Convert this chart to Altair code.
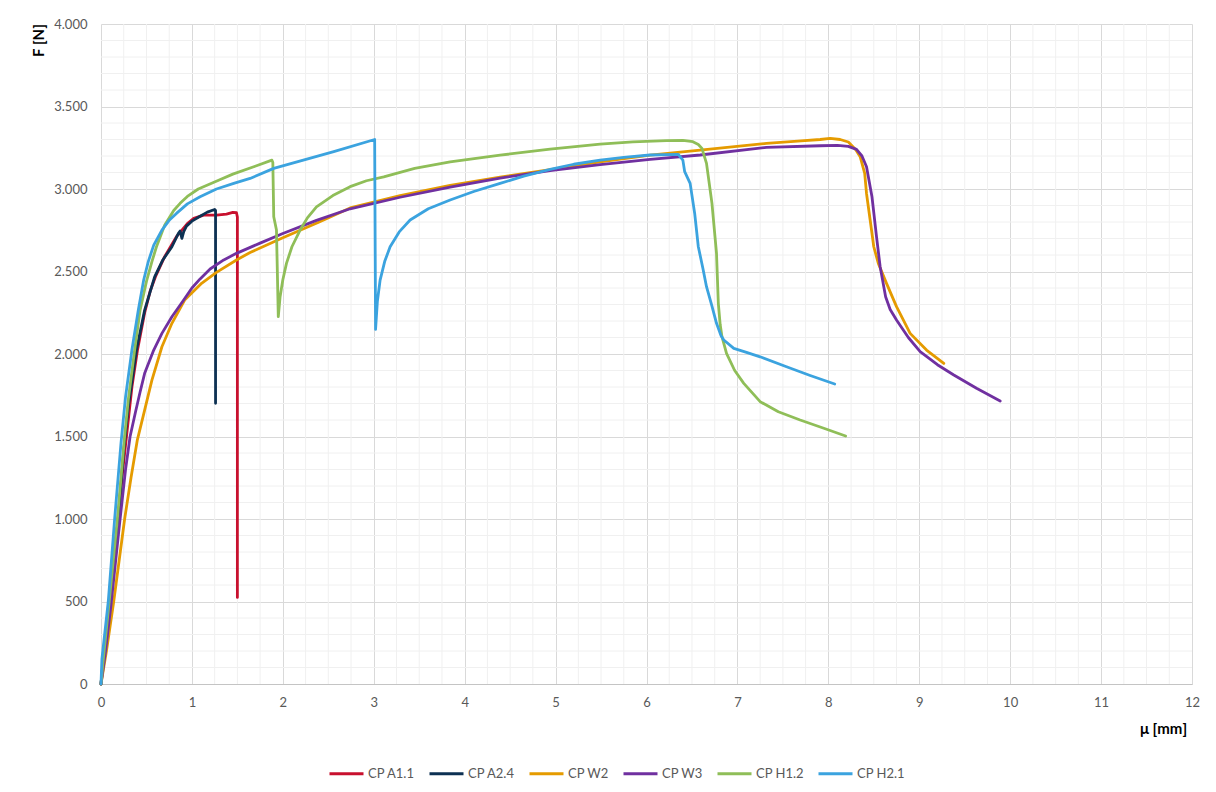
import altair as alt
import pandas as pd

# Force-displacement curves of the six specimens (displacement in mm, force in N)
SERIES = ["CP A1.1", "CP A2.4", "CP W2", "CP W3", "CP H1.2", "CP H2.1"]
COLORS = ["#C8102E", "#0D3153", "#E59B00", "#7030A0", "#8FBE58", "#3BA3DF"]

A11_X = [0, 0.05, 0.10, 0.19, 0.24, 0.29, 0.34, 0.40, 0.48, 0.54, 0.60, 0.70, 0.83, 0.95,
         1.02, 1.13, 1.27, 1.38, 1.45, 1.49, 1.50, 1.50]
A11_Y = [0, 280, 560, 1000, 1300, 1550, 1800, 2020, 2250, 2380, 2470, 2590, 2711, 2790,
         2822, 2842, 2842, 2848, 2858, 2856, 2830, 525]

A24_X = [0, 0.05, 0.10, 0.19, 0.25, 0.30, 0.39, 0.48, 0.59, 0.68, 0.78, 0.85, 0.87, 0.89,
         0.91, 0.94, 1.00, 1.09, 1.17, 1.25, 1.26, 1.26]
A24_Y = [0, 280, 560, 1000, 1418, 1680, 2024, 2266, 2468, 2570, 2650, 2730, 2745, 2701,
         2741, 2775, 2805, 2835, 2860, 2876, 2870, 1701]

W2_X = [0, 0.06, 0.14, 0.26, 0.33, 0.40, 0.48, 0.56, 0.67, 0.78, 0.92, 1.11, 1.27, 1.49,
        1.64, 2.00, 2.40, 2.74, 3.29, 3.84, 4.39, 4.94, 5.49, 6.04, 6.59, 7.32, 7.70, 7.91,
        8.02, 8.13, 8.22, 8.30, 8.35, 8.40, 8.42, 8.46, 8.50, 8.55, 8.64, 8.75, 8.90, 9.08,
        9.27]
W2_Y = [0, 200, 500, 1000, 1250, 1480, 1660, 1842, 2044, 2186, 2327, 2430, 2495, 2570,
        2615, 2705, 2800, 2885, 2960, 3022, 3072, 3118, 3165, 3205, 3236, 3276, 3292, 3300,
        3307, 3300, 3285, 3240, 3196, 3095, 2973, 2812, 2650, 2549, 2428, 2287, 2125, 2024,
        1943]

W3_X = [0, 0.05, 0.11, 0.20, 0.27, 0.32, 0.38, 0.43, 0.48, 0.58, 0.67, 0.78, 0.90, 1.00,
        1.09, 1.20, 1.35, 1.49, 1.75, 2.00, 2.37, 2.74, 3.29, 3.84, 4.39, 4.94, 5.49, 6.04,
        6.59, 7.32, 7.91, 8.10, 8.22, 8.31, 8.37, 8.42, 8.48, 8.53, 8.57, 8.63, 8.68, 8.75,
        8.88, 9.01, 9.20, 9.38, 9.63, 9.89]
W3_Y = [0, 200, 480, 950, 1300, 1500, 1650, 1770, 1883, 2024, 2125, 2226, 2320, 2400,
        2455, 2515, 2570, 2610, 2672, 2730, 2810, 2880, 2950, 3012, 3066, 3112, 3148, 3180,
        3206, 3252, 3262, 3264, 3258, 3240, 3200, 3135, 2953, 2711, 2529, 2347, 2270, 2206,
        2100, 2014, 1935, 1873, 1792, 1715]

H12_X = [0, 0.02, 0.09, 0.18, 0.26, 0.30, 0.37, 0.43, 0.50, 0.56, 0.61, 0.70, 0.80, 0.87,
         0.95, 1.07, 1.30, 1.45, 1.68, 1.88, 1.89, 1.90, 1.93, 1.95, 1.97, 2.00, 2.04, 2.10,
         2.19, 2.27, 2.37, 2.55, 2.74, 2.92, 3.11, 3.45, 3.84, 4.39, 4.94, 5.49, 5.85, 6.22,
         6.40, 6.51, 6.57, 6.61, 6.66, 6.72, 6.77, 6.79, 6.81, 6.83, 6.88, 6.97, 7.07, 7.25,
         7.45, 7.69, 7.95, 8.19]
H12_Y = [0, 120, 500, 1000, 1500, 1721, 2024, 2266, 2440, 2560, 2650, 2780, 2870, 2913,
         2955, 3000, 3055, 3090, 3135, 3175, 3160, 2832, 2751, 2226, 2347, 2450, 2549, 2650,
         2751, 2825, 2892, 2960, 3014, 3050, 3074, 3125, 3165, 3205, 3242, 3272, 3285, 3293,
         3295, 3287, 3270, 3246, 3155, 2913, 2610, 2307, 2180, 2105, 2004, 1900, 1822, 1711,
         1650, 1600, 1550, 1503]

H21_X = [0, 0.01, 0.03, 0.08, 0.15, 0.22, 0.27, 0.34, 0.41, 0.47, 0.52, 0.58, 0.67, 0.75,
         0.83, 0.95, 1.09, 1.27, 1.46, 1.64, 1.90, 2.56, 3.01, 3.02, 3.04, 3.07, 3.12, 3.18,
         3.28, 3.40, 3.60, 3.84, 4.10, 4.39, 4.65, 4.94, 5.20, 5.49, 5.75, 6.04, 6.35, 6.40,
         6.42, 6.48, 6.53, 6.57, 6.62, 6.66, 6.72, 6.77, 6.82, 6.85, 6.96, 7.10, 7.25, 7.54,
         7.80, 8.07]
H21_Y = [0, 150, 250, 500, 1000, 1460, 1740, 2024, 2266, 2450, 2560, 2660, 2751, 2810,
         2852, 2910, 2953, 3000, 3034, 3064, 3125, 3226, 3300, 2149, 2320, 2448, 2560, 2650,
         2740, 2812, 2880, 2933, 2985, 3034, 3078, 3119, 3150, 3175, 3192, 3206, 3210, 3175,
         3105, 3034, 2852, 2650, 2520, 2408, 2290, 2186, 2110, 2085, 2034, 2010, 1983, 1923,
         1870, 1818]

# Axis ticks and minor gridlines
X_TICKS = list(range(0, 13))
Y_TICKS = list(range(0, 4001, 500))
MINOR_X = [i * 0.25 for i in range(49) if i % 4 != 0]
MINOR_Y = [v for v in range(0, 4001, 100) if v % 500 != 0]

curves = [(A11_X, A11_Y), (A24_X, A24_Y), (W2_X, W2_Y),
          (W3_X, W3_Y), (H12_X, H12_Y), (H21_X, H21_Y)]
rows = []
for name, (xs, ys) in zip(SERIES, curves):
    for i, (xv, yv) in enumerate(zip(xs, ys)):
        rows.append({"series": name, "mu": xv, "F": yv, "i": i})
df = pd.DataFrame(rows)

FONT = "Lato"
x_scale = alt.Scale(domain=[0, 12], nice=False, zero=False)
y_scale = alt.Scale(domain=[0, 4000], nice=False)

x_axis = alt.Axis(
    values=X_TICKS, grid=True, gridColor="#d9d9d9", ticks=False, labelFlush=False,
    domainColor="#c4c4c4", labelFont=FONT, labelFontSize=13, labelColor="#595959",
    labelPadding=12, title="μ [mm]", titleFont=FONT, titleFontSize=15,
    titleFontWeight="bold", titleColor="#000000", titleX=1062, titleY=44,
    titleAlign="center", titleBaseline="middle",
)
y_axis = alt.Axis(
    values=Y_TICKS, grid=True, gridColor="#d9d9d9", ticks=False, domain=False,
    labelFlush=False, labelFont=FONT, labelFontSize=13, labelColor="#595959",
    labelPadding=14, labelExpr="replace(format(datum.value, ','), ',', '.')",
    title="F [N]", titleFont=FONT, titleFontSize=15, titleFontWeight="bold",
    titleColor="#000000", titleAngle=270, titleX=-63, titleY=16,
    titleAlign="center", titleBaseline="middle",
)

# Light minor gridlines drawn underneath the curves
minor_x = alt.Chart(pd.DataFrame({"mu": MINOR_X})).mark_rule(
    color="#f0f0f0", strokeWidth=1
).encode(x=alt.X("mu:Q", scale=x_scale, axis=x_axis))

minor_y = alt.Chart(pd.DataFrame({"F": MINOR_Y})).mark_rule(
    color="#f0f0f0", strokeWidth=1
).encode(y=alt.Y("F:Q", scale=y_scale, axis=y_axis))

lines = alt.Chart(df).mark_line(strokeWidth=2.8, strokeJoin="round", strokeCap="round").encode(
    x=alt.X("mu:Q", scale=x_scale, axis=x_axis),
    y=alt.Y("F:Q", scale=y_scale, axis=y_axis),
    color=alt.Color(
        "series:N", scale=alt.Scale(domain=SERIES, range=COLORS),
        legend=alt.Legend(
            title=None, orient="none", direction="horizontal", legendX=227, legendY=731,
            symbolType="stroke", symbolSize=1156, symbolStrokeWidth=3,
            labelFont=FONT, labelFontSize=13, labelColor="#595959", labelOffset=3,
            columnPadding=8, padding=0,
        ),
    ),
    order=alt.Order("i:Q"),
)

chart = alt.layer(minor_x, minor_y, lines).properties(
    width=1091, height=660,
    autosize=alt.AutoSizeParams(type="none"),
    padding={"left": 101, "top": 24, "right": 24, "bottom": 108},
    background="white",
).configure_view(stroke=None)

chart.save("out.html", embed_options={"renderer": "svg", "actions": False})
